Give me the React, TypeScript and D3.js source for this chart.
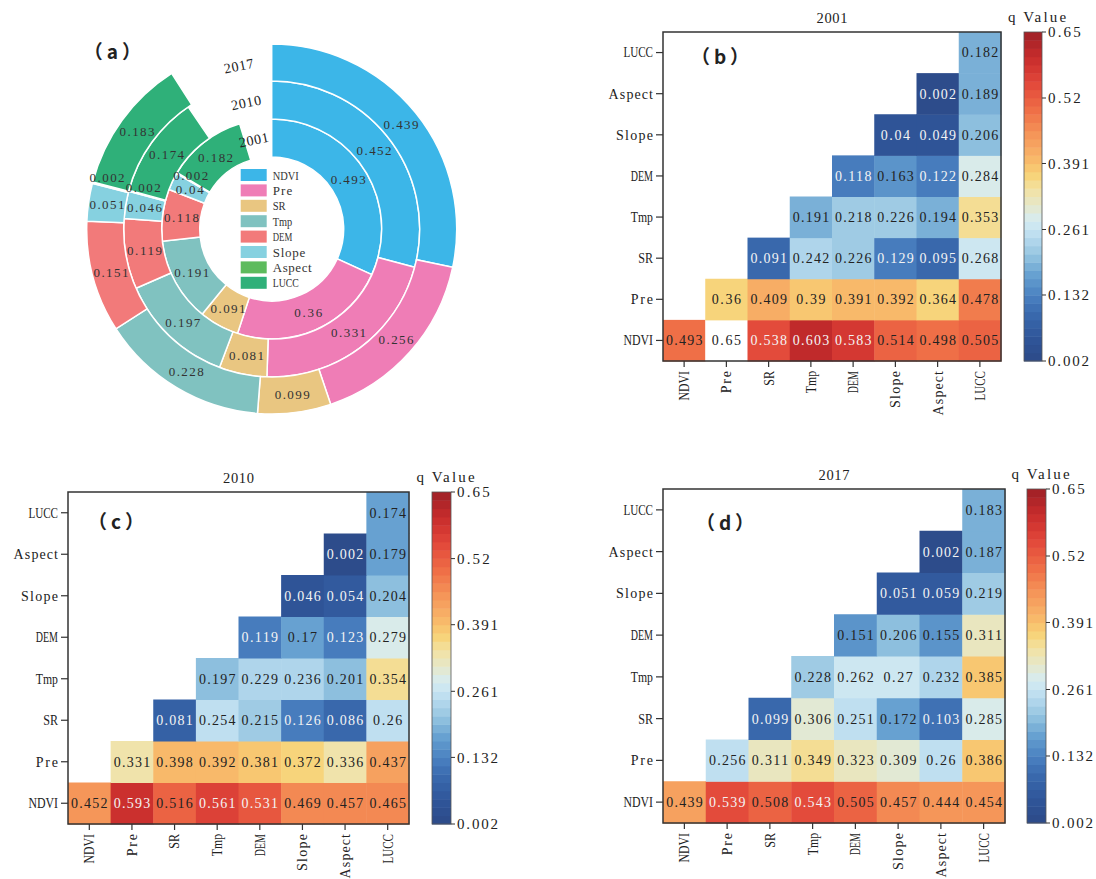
import * as d3 from "d3";

const factors = ["NDVI", "Pre", "SR", "Tmp", "DEM", "Slope", "Aspect", "LUCC"];
const years = ["2001", "2010", "2017"];

// upper triangle of the interaction q matrix, one row per factor (row i holds columns i..LUCC)
const q2001 = [
  [0.493, 0.65, 0.538, 0.603, 0.583, 0.514, 0.498, 0.505],
  [0.36, 0.409, 0.39, 0.391, 0.392, 0.364, 0.478],
  [0.091, 0.242, 0.226, 0.129, 0.095, 0.268],
  [0.191, 0.218, 0.226, 0.194, 0.353],
  [0.118, 0.163, 0.122, 0.284],
  [0.04, 0.049, 0.206],
  [0.002, 0.189],
  [0.182],
];
const q2010 = [
  [0.452, 0.593, 0.516, 0.561, 0.531, 0.469, 0.457, 0.465],
  [0.331, 0.398, 0.392, 0.381, 0.372, 0.336, 0.437],
  [0.081, 0.254, 0.215, 0.126, 0.086, 0.26],
  [0.197, 0.229, 0.236, 0.201, 0.354],
  [0.119, 0.17, 0.123, 0.279],
  [0.046, 0.054, 0.204],
  [0.002, 0.179],
  [0.174],
];
const q2017 = [
  [0.439, 0.539, 0.508, 0.543, 0.505, 0.457, 0.444, 0.454],
  [0.256, 0.311, 0.349, 0.323, 0.309, 0.26, 0.386],
  [0.099, 0.306, 0.251, 0.172, 0.103, 0.285],
  [0.228, 0.262, 0.27, 0.232, 0.385],
  [0.151, 0.206, 0.155, 0.311],
  [0.051, 0.059, 0.219],
  [0.002, 0.187],
  [0.183],
];

const cbarTicks = [0.002, 0.132, 0.261, 0.391, 0.52, 0.65];
const ringColors = ["#3cb6e8", "#ef7db6", "#e9c681", "#80c2c0", "#f27a7a", "#86d1e0", "#5dbb5d", "#2fb079"];

// single-factor q (the diagonal) drives the ring chart
const ringData = [q2001, q2010, q2017].map((m) => m.map((row) => row[0]));

const SERIF = "'Liberation Serif', 'DejaVu Serif', serif";
const CJK = "'Noto Sans CJK SC', 'Noto Sans', sans-serif";

const vmin = 0.002;
const vmax = 0.65;
const stopVals = [0.002, 0.05, 0.1, 0.13, 0.17, 0.21, 0.25, 0.28, 0.31, 0.34, 0.37, 0.4, 0.45, 0.5, 0.55, 0.6, 0.65];
const stopCols = ["#2c4a88", "#30569a", "#3b6cb0", "#4a80c0", "#649fd0", "#94c4e0", "#bcdef0", "#d6ecf2", "#e6e8c8", "#f2e2a4", "#f8d276", "#f8b86a", "#f59458", "#ee6c46", "#e2473a", "#c82c2c", "#9e2026"];
const smooth = d3.scaleLinear<string>().domain(stopVals).range(stopCols).clamp(true);
const nBands = 40;
const bandColor = (v: number) => {
  const k = Math.max(0, Math.min(nBands - 1, Math.floor(((v - vmin) / (vmax - vmin)) * nBands)));
  return smooth(vmin + ((k + 0.5) * (vmax - vmin)) / nBands);
};
// the top-valued cell is left white in the source figure
const cellFill = (v: number) => (v >= vmax ? "#ffffff" : bandColor(v));
const textFill = (v: number) => (v >= vmax ? "#222" : v > 0.52 || v < 0.14 ? "#f4f4f4" : "#222");

// rough Times advance widths (em) to decide between spreading and squeezing
const adv: Record<string, number> = {
  N: 0.722, D: 0.722, V: 0.722, I: 0.333, L: 0.611, U: 0.722, C: 0.667, E: 0.611, M: 0.889,
  S: 0.556, R: 0.667, T: 0.611, A: 0.722, m: 0.778, t: 0.278, l: 0.278, ".": 0.25, " ": 0.25, r: 0.333,
};
const estWidth = (s: string, size: number) => s.split("").reduce((w, ch) => w + (adv[ch] ?? 0.48), 0) * size;

// half-width "monospace" serif text, like SimSun's latin glyphs
function MText({ text, cw, size, ...rest }: any) {
  const target = text.length * cw;
  const squeeze = estWidth(text, size) > target;
  return (
    <text fontFamily={SERIF} fontSize={size} textLength={target} lengthAdjust={squeeze ? "spacingAndGlyphs" : "spacing"} {...rest}>
      {text}
    </text>
  );
}

function Heatmap({ data, title, tag, box, cbar, tagPos }: any) {
  const x = d3.scaleBand().domain(factors).range([box.x0, box.x1]);
  const y = d3.scaleBand().domain(factors).range([box.y1, box.y0]);
  const cy = d3.scaleLinear().domain([vmin, vmax]).range([box.y1, box.y0]);
  const bands = d3.range(nBands).map((k) => vmin + (k * (vmax - vmin)) / nBands);
  const step = (vmax - vmin) / nBands;
  const cells: any[] = [];
  data.forEach((row: number[], i: number) =>
    row.forEach((v, k) => cells.push({ r: factors[i], c: factors[i + k], v }))
  );
  return (
    <g>
      {cells.map((d, i) => (
        <rect key={i} x={x(d.c)} y={y(d.r)} width={x.bandwidth() + 0.5} height={y.bandwidth() + 0.5} fill={cellFill(d.v)} />
      ))}
      {cells.map((d, i) => (
        <MText key={"t" + i} text={String(d.v)} cw={7.3} size={14}
          x={x(d.c)! + x.bandwidth() / 2} y={y(d.r)! + y.bandwidth() / 2} dy="0.35em"
          textAnchor="middle" fill={textFill(d.v)} />
      ))}
      <rect x={box.x0} y={box.y0} width={box.x1 - box.x0} height={box.y1 - box.y0} fill="none" stroke="#333" strokeWidth={1.5} />
      {factors.map((f) => (
        <g key={"y" + f}>
          <line x1={box.x0 - 7} x2={box.x0} y1={y(f)! + y.bandwidth() / 2} y2={y(f)! + y.bandwidth() / 2} stroke="#333" strokeWidth={1.2} />
          <MText text={f} cw={7.4} size={14} x={box.x0 - 10} y={y(f)! + y.bandwidth() / 2} dy="0.35em" textAnchor="end" fill="#222" />
        </g>
      ))}
      {factors.map((f) => {
        const cx = x(f)! + x.bandwidth() / 2;
        return (
          <g key={"x" + f}>
            <line x1={cx} x2={cx} y1={box.y1} y2={box.y1 + 6} stroke="#333" strokeWidth={1.2} />
            <MText text={f} cw={7.4} size={14} transform={`translate(${cx},${box.y1 + 10}) rotate(-90)`} dy="0.35em" textAnchor="end" fill="#222" />
          </g>
        );
      })}
      <MText text={title} cw={7.7} size={14.5} x={(box.x0 + box.x1) / 2} y={box.y0 - 9} textAnchor="middle" fill="#222" />
      <text x={box.x0 + tagPos[0]} y={box.y0 + tagPos[1]} dy="0.35em" textAnchor="middle" fontFamily={CJK}
        fontSize={19} fontWeight="bold" letterSpacing={4} fill="#222">{tag}</text>
      {bands.map((b, k) => (
        <rect key={"c" + k} x={cbar.x0} y={cy(b + step)} width={cbar.x1 - cbar.x0} height={cy(b) - cy(b + step) + 0.5} fill={bandColor(b + step / 2)} />
      ))}
      <rect x={cbar.x0} y={box.y0} width={cbar.x1 - cbar.x0} height={box.y1 - box.y0} fill="none" stroke="#555" strokeWidth={0.8} />
      {cbarTicks.map((t) => (
        <g key={"ct" + t}>
          <line x1={cbar.x1} x2={cbar.x1 + 4} y1={cy(t)} y2={cy(t)} stroke="#333" strokeWidth={1} />
          <MText text={String(t)} cw={8.2} size={15} x={cbar.x1 + 6} y={cy(t)} dy="0.35em" fill="#222" />
        </g>
      ))}
      <MText text="q Value" cw={8.3} size={15} x={(cbar.x0 + cbar.x1) / 2 + 4} y={box.y0 - 10} textAnchor="middle" fill="#222" />
    </g>
  );
}

function Rings() {
  const cx = 271.7;
  const cy = 229;
  const radii = [72, 110, 148, 185];
  const ang = d3.scaleLinear().domain([0, 1.55]).range([0, 2 * Math.PI]);
  const arc = d3.arc<any>();
  const segs: any[] = [];
  ringData.forEach((vals, r) => {
    let acc = 0;
    vals.forEach((v, i) => {
      segs.push({ r, i, v, a0: ang(acc), a1: ang(acc + v) });
      acc += v;
    });
  });
  const labelAngle = -0.2;
  return (
    <g transform={`translate(${cx},${cy})`}>
      {segs.map((s, k) => (
        <path key={k} d={arc({ innerRadius: radii[s.r], outerRadius: radii[s.r + 1], startAngle: s.a0, endAngle: s.a1 })!}
          fill={ringColors[s.i]} stroke="#fff" strokeWidth={1.5} />
      ))}
      {segs.map((s, k) => {
        // sliver segments get their label nudged a little outward so it clears the neighbour
        const tiny = s.v < 0.01;
        const a = (s.a0 + s.a1) / 2 + (tiny ? 0.05 : 0);
        const rr = (radii[s.r] + radii[s.r + 1]) / 2 + (tiny ? 6 : 0);
        return (
          <MText key={"l" + k} text={String(s.v)} cw={7} size={13}
            x={rr * Math.sin(a)} y={-rr * Math.cos(a)} dy="0.35em" textAnchor="middle" fill="#333" />
        );
      })}
      {years.map((yr, r) => {
        const rr = (radii[r] + radii[r + 1]) / 2;
        return (
          <MText key={yr} text={yr} cw={7.5} size={14}
            transform={`translate(${rr * Math.sin(labelAngle)},${-rr * Math.cos(labelAngle)}) rotate(${(labelAngle * 180) / Math.PI})`}
            dy="0.35em" textAnchor="middle" fill="#222" />
        );
      })}
      {factors.map((f, i) => (
        <g key={"lg" + f} transform={`translate(-31,${-54 + i * 15.4})`}>
          <rect x={0} y={-6} width={26} height={12} fill={ringColors[i]} />
          <MText text={f} cw={6.5} size={13} x={32} y={0} dy="0.35em" fill="#333" />
        </g>
      ))}
      <text x={114.4 - cx} y={52 - cy} dy="0.35em" textAnchor="middle" fontFamily={CJK} fontSize={19}
        fontWeight="bold" letterSpacing={4} fill="#222">（a）</text>
    </g>
  );
}

export default function App() {
  return (
    <svg width={1096} height={879} style={{ position: "absolute", left: 0, top: 0, background: "#fff" }}>
      <rect width={1096} height={879} fill="#fff" />
      <Rings />
      <Heatmap data={q2001} title="2001" tag="（b）" box={{ x0: 663, x1: 1001, y0: 32, y1: 361 }} cbar={{ x0: 1024, x1: 1042 }} tagPos={[59, 25]} />
      <Heatmap data={q2010} title="2010" tag="（c）" box={{ x0: 68, x1: 409, y0: 492, y1: 824 }} cbar={{ x0: 432, x1: 451 }} tagPos={[50, 30]} />
      <Heatmap data={q2017} title="2017" tag="（d）" box={{ x0: 663, x1: 1005, y0: 489, y1: 823 }} cbar={{ x0: 1027, x1: 1046 }} tagPos={[64, 34]} />
    </svg>
  );
}
